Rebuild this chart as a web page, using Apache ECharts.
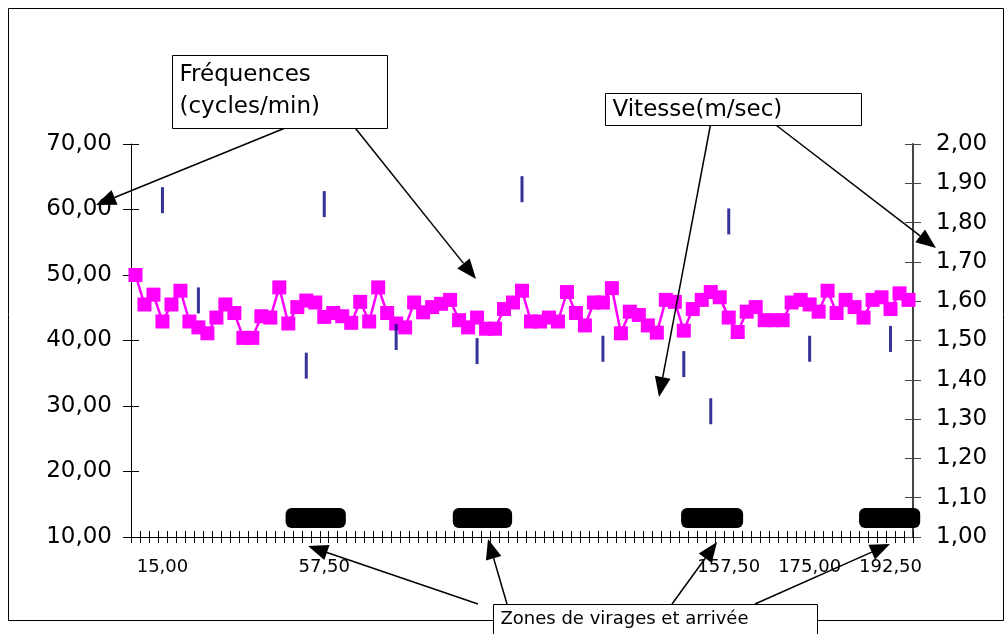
<!DOCTYPE html>
<html><head><meta charset="utf-8">
<script src="https://cdn.jsdelivr.net/npm/echarts@6/dist/echarts.min.js"></script>
<style>html,body{margin:0;padding:0;background:#fff}#c{width:1006px;height:634px}</style>
</head><body><div id="c"></div>
<script>
// Fréquences (cycles/min) – one value per category
const freq = [50.0,45.5,47.0,42.9,45.5,47.6,42.9,42.0,41.1,43.5,45.5,44.2,40.4,40.4,43.7,43.5,48.1,42.6,45.1,46.1,
45.8,43.6,44.2,43.7,42.7,45.9,42.9,48.1,44.2,42.6,42.0,45.8,44.3,45.1,45.6,46.2,43.1,42.0,43.5,41.8,
41.8,44.8,45.8,47.6,42.9,42.9,43.5,42.9,47.4,44.2,42.3,45.8,45.8,48.0,41.1,44.4,43.9,42.3,41.2,46.2,
45.9,41.5,44.8,46.2,47.4,46.6,43.5,41.3,44.4,45.1,43.1,43.1,43.1,45.8,46.2,45.5,44.4,47.6,44.2,46.2,
45.1,43.5,46.2,46.6,44.8,47.2,46.2];
// Vitesse (m/sec) – category index and value
const speedIdx = [3,7,19,21,29,38,43,52,61,64,66,75,84];
const speed = [1.857,1.602,1.436,1.847,1.509,1.473,1.885,1.479,1.44,1.32,1.803,1.479,1.504];
// x-axis tick labels
const xLabelIdx = [3,21,66,75,84];
const xLabelText = ['15,00','57,50','157,50','175,00','192,50'];
// Zones de virages et arrivée (start/end in category units) and level (left axis)
const zoneStart = [17.2,35.8,61.2,81.0];
const zoneEnd = [23.9,42.4,68.1,87.8];
const zoneLevel = 12.9;

const FONT = 'DejaVu Sans';
const cats = freq.map((_, i) => String(i));
const labelOf = i => { const k = xLabelIdx.indexOf(i); return k >= 0 ? xLabelText[k] : ''; };
const fmt2 = v => v.toFixed(2).replace('.', ',');

const chart = echarts.init(document.getElementById('c'), null, {renderer: 'canvas'});

function arrow(x1, y1, x2, y2) {
  const L = 20, W = 8;
  const dx = x2 - x1, dy = y2 - y1, len = Math.hypot(dx, dy);
  const ux = dx / len, uy = dy / len;
  const bx = x2 - ux * L, by = y2 - uy * L;
  return [
    {type: 'line', shape: {x1, y1, x2: bx, y2: by}, style: {stroke: '#000', lineWidth: 1.5}, z: 100},
    {type: 'polygon', shape: {points: [[x2, y2], [bx - uy * W, by + ux * W], [bx + uy * W, by - ux * W]]}, style: {fill: '#000'}, z: 100}
  ];
}
function box(x, y, w, h, lines, fs, lh) {
  return [
    {type: 'rect', shape: {x, y, width: w, height: h}, style: {fill: '#fff', stroke: '#000', lineWidth: 1}, z: 101},
    {type: 'text', x: x + 7, y: y + 4, style: {text: lines, font: fs + 'px "' + FONT + '"', fill: '#000', lineHeight: lh}, z: 102}
  ];
}

const axisBaseY = {
  type: 'value', splitLine: {show: false},
  axisLine: {show: true, lineStyle: {color: '#000', width: 1}},
};

const option = {
  animation: false,
  backgroundColor: '#fff',
  textStyle: {fontFamily: FONT},
  grid: {left: 131, right: 93, top: 144, bottom: 97, containLabel: false},
  xAxis: [
    {type: 'category', data: cats, boundaryGap: true, position: 'bottom',
     axisLine: {lineStyle: {color: '#000', width: 1}},
     axisTick: {show: true, interval: 0, length: 6, lineStyle: {color: '#000'}},
     axisLabel: {interval: 0, formatter: (v, i) => labelOf(i), color: '#000', fontSize: 18, margin: 21, fontFamily: FONT},
     splitLine: {show: false}},
    {type: 'category', data: cats, boundaryGap: true, position: 'bottom',
     axisLine: {show: false},
     axisTick: {show: true, inside: true, interval: 0, length: 6, lineStyle: {color: '#000'}},
     axisLabel: {show: false}, splitLine: {show: false}}
  ],
  yAxis: [
    Object.assign({}, axisBaseY, {position: 'left', min: 10, max: 70, interval: 10,
      axisTick: {show: true, length: 8, lineStyle: {color: '#000'}},
      axisLabel: {formatter: fmt2, color: '#000', fontSize: 23, margin: 19, fontFamily: FONT}}),
    Object.assign({}, axisBaseY, {position: 'right', min: 1, max: 2, interval: 0.1,
      axisLine: {show: true, lineStyle: {color: '#444', width: 2}},
      axisTick: {show: true, length: 8, lineStyle: {color: '#444'}},
      axisLabel: {formatter: fmt2, color: '#000', fontSize: 23, margin: 23, fontFamily: FONT}}),
    Object.assign({}, axisBaseY, {position: 'left', min: 10, max: 70, interval: 10,
      axisLine: {show: false},
      axisTick: {show: true, inside: true, length: 8, lineStyle: {color: '#000'}},
      axisLabel: {show: false}}),
    Object.assign({}, axisBaseY, {position: 'right', min: 1, max: 2, interval: 0.1,
      axisLine: {show: false},
      axisTick: {show: true, inside: true, length: 8, lineStyle: {color: '#444'}},
      axisLabel: {show: false}})
  ],
  series: [
    {type: 'custom', name: 'Zones', xAxisIndex: 0, yAxisIndex: 0, clip: false, z: 3,
     data: zoneStart.map((s, k) => [s, zoneEnd[k], zoneLevel]),
     renderItem: (params, api) => {
       const bw = api.size([1, 0])[0];
       const lvl = api.value(2);
       const toX = u => { const i = Math.min(Math.max(Math.floor(u), 0), cats.length - 1); return api.coord([i, lvl])[0] + (u - i - 0.5) * bw; };
       const x0 = toX(api.value(0)), x1 = toX(api.value(1));
       const yc = api.coord([0, lvl])[1];
       return {type: 'rect', shape: {x: x0, y: yc - 10, width: x1 - x0, height: 20, r: 6}, style: {fill: '#000'}};
     }},
    {type: 'line', name: 'Fréquences', data: freq, xAxisIndex: 0, yAxisIndex: 0, z: 4,
     symbol: 'rect', symbolSize: 14, showAllSymbol: true,
     itemStyle: {color: '#FF00FF'}, lineStyle: {color: '#FF00FF', width: 2.5}},
    {type: 'scatter', name: 'Vitesse', xAxisIndex: 0, yAxisIndex: 1, z: 5,
     data: speedIdx.map((i, k) => [i, speed[k]]),
     symbol: 'rect', symbolSize: [3, 26], itemStyle: {color: '#000080'}}
  ],
  graphic: [
    {type: 'rect', shape: {x: 8.5, y: 8.5, width: 995, height: 612}, style: {fill: 'none', stroke: '#000', lineWidth: 1}, z: 1},
    ...arrow(322, 113, 96, 205),
    ...arrow(352, 124, 476, 279),
    ...arrow(711, 122, 659, 397),
    ...arrow(772, 122, 936, 248),
    ...arrow(478, 604, 308, 546),
    ...arrow(507, 604, 488, 539),
    ...arrow(672, 604, 717, 542),
    ...arrow(755, 604, 890, 544),
    ...box(172.5, 55.5, 215, 73, 'Fréquences\n(cycles/min)', 23, 32),
    ...box(605.5, 93.5, 256, 32, 'Vitesse(m/sec)', 23, 26),
    ...box(493.5, 604.5, 324, 40, 'Zones de virages et arrivée', 18, 22)
  ]
};
chart.setOption(option);
</script></body></html>
